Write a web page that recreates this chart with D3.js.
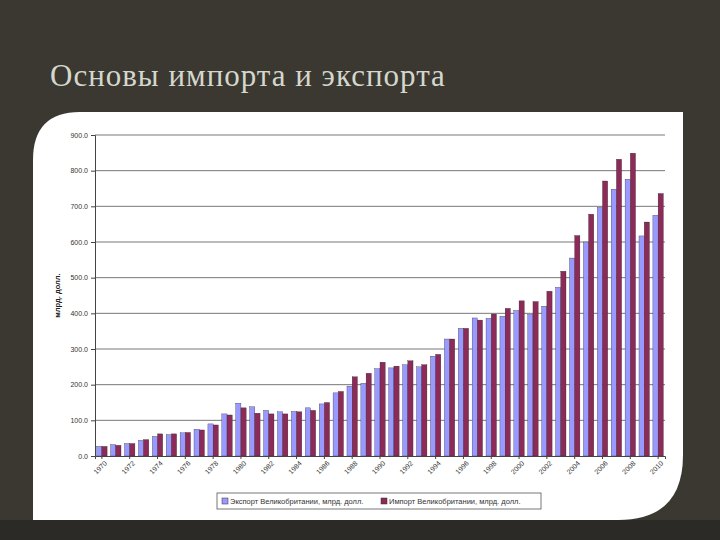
<!DOCTYPE html>
<html>
<head>
<meta charset="utf-8">
<script src="https://cdn.jsdelivr.net/npm/d3@7"></script>
<style>
  body { margin: 0; background: #3b3832; }
  svg { display: block; }
</style>
</head>
<body>
<svg id="chart" width="720" height="540"></svg>
<script>
const years = d3.range(1970, 2011);
const exportVals = [27, 32, 35, 44, 55, 60, 65, 75, 90, 118, 148, 138, 128, 124, 125, 135, 146, 177, 196,
  204, 245, 247, 256, 250, 280, 328, 358, 387, 386, 392, 408, 397, 420, 473, 555, 600, 697, 748, 776, 617, 675];
const importVals = [27, 30, 35, 46, 62, 62, 66, 73, 87, 115, 135, 120, 118, 118, 124, 128, 150, 181, 222,
  232, 263, 252, 267, 256, 285, 328, 358, 381, 398, 414, 435, 433, 462, 518, 618, 678, 771, 832, 849, 656, 736];
const yTicks = [0, 100, 200, 300, 400, 500, 600, 700, 800, 900];
const seriesNames = ['Экспорт Великобритании, млрд. долл.', 'Импорт Великобритании, млрд. долл.'];
const colors = ['#9999ff', '#8c2a58'];

const svg = d3.select('#chart');

// dark bottom band
svg.append('rect').attr('x', 0).attr('y', 520).attr('width', 720).attr('height', 20).attr('fill', '#2c2a26');

svg.append('text')
  .attr('x', 50).attr('y', 86)
  .attr('font-family', 'Liberation Serif, DejaVu Serif, serif')
  .attr('font-size', 31)
  .attr('letter-spacing', 1)
  .attr('fill', '#d4d7cc')
  .text('Основы импорта и экспорта');

// white panel with rounded corners
svg.append('path')
  .attr('d', 'M80,112 L683,112 L683,455 Q683,520 618,520 L33,520 L33,160 Q33,112 80,112 Z')
  .attr('fill', '#ffffff');

const margin = { left: 95, right: 665, top: 135, bottom: 456 };
const x = d3.scaleBand().domain(years).range([margin.left, margin.right]).paddingInner(0.25).paddingOuter(0.12);
const xs = d3.scaleBand().domain([0, 1]).range([0, x.bandwidth()]);
const y = d3.scaleLinear().domain([0, 900]).range([margin.bottom, margin.top]);

const g = svg.append('g');

// gridlines
g.selectAll('.grid').data(yTicks.slice(1)).join('line')
  .attr('x1', margin.left).attr('x2', margin.right)
  .attr('y1', (d) => y(d)).attr('y2', (d) => y(d))
  .attr('stroke', '#555').attr('stroke-width', 0.8);

const series = [exportVals, importVals];
series.forEach((vals, si) => {
  g.selectAll(`.bar${si}`).data(years).join('rect')
    .attr('x', (d) => x(d) + xs(si))
    .attr('width', xs.bandwidth())
    .attr('y', (d, i) => y(vals[i]))
    .attr('height', (d, i) => y(0) - y(vals[i]))
    .attr('fill', colors[si])
    .attr('stroke', '#222').attr('stroke-width', 0.3);
});

const yAxis = d3.axisLeft(y).tickValues(yTicks).tickFormat(d3.format('.1f')).tickSize(4);
const yg = svg.append('g').attr('transform', `translate(${margin.left},0)`).call(yAxis);
yg.selectAll('text').attr('font-family', 'Arial, Liberation Sans, sans-serif').attr('font-size', 7).attr('fill', '#333');
yg.selectAll('line, path').attr('stroke', '#444');

const xAxis = d3.axisBottom(x).tickValues(years.filter((d) => d % 2 === 0)).tickSize(3);
const xg = svg.append('g').attr('transform', `translate(0,${margin.bottom})`).call(xAxis);
xg.select('.domain').attr('stroke', '#444');
xg.selectAll('line').attr('stroke', '#444');
xg.selectAll('text')
  .attr('font-family', 'Arial, Liberation Sans, sans-serif').attr('font-size', 7).attr('fill', '#333')
  .attr('text-anchor', 'end').attr('dx', '-0.2em').attr('dy', '0.5em')
  .attr('transform', 'rotate(-45)');

svg.append('text')
  .attr('transform', `translate(60,${(margin.top + margin.bottom) / 2}) rotate(-90)`)
  .attr('text-anchor', 'middle')
  .attr('font-family', 'Arial, Liberation Sans, sans-serif').attr('font-size', 7.5).attr('font-weight', 'bold')
  .attr('fill', '#222')
  .text('млрд. долл.');

// legend
const lg = svg.append('g').attr('transform', 'translate(217,493)');
lg.append('rect').attr('width', 324).attr('height', 16).attr('fill', '#fff').attr('stroke', '#555').attr('stroke-width', 0.8);
const legendX = [5, 164];
seriesNames.forEach((name, i) => {
  lg.append('rect').attr('x', legendX[i]).attr('y', 5).attr('width', 6).attr('height', 6)
    .attr('fill', colors[i]).attr('stroke', '#333').attr('stroke-width', 0.5);
  lg.append('text').attr('x', legendX[i] + 8).attr('y', 11)
    .attr('font-family', 'Arial, Liberation Sans, sans-serif').attr('font-size', 7.5).attr('fill', '#333')
    .text(name);
});
</script>
</body>
</html>
